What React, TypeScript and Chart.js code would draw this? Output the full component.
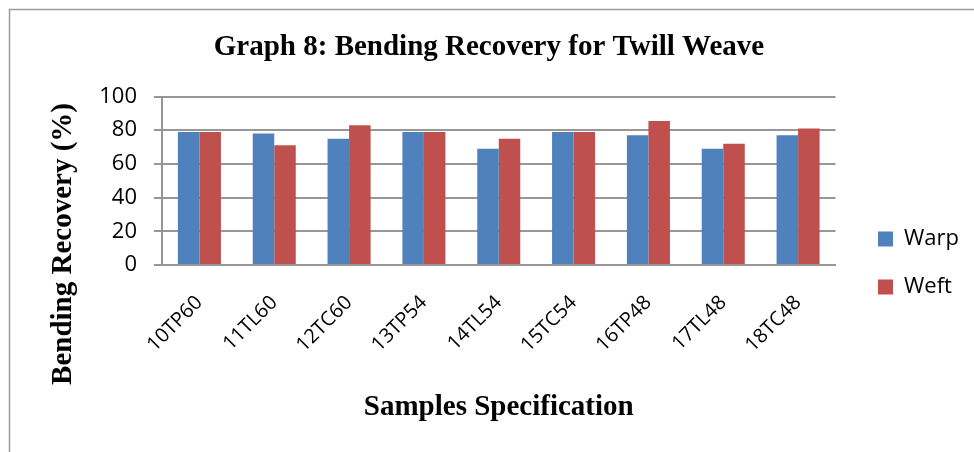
import React, { useEffect, useRef } from "react";
import { Chart, registerables } from "chart.js";

Chart.register(...registerables);

const CHART_TITLE = "Graph 8: Bending Recovery for Twill Weave";
const X_TITLE = "Samples Specification";
const Y_TITLE = "Bending Recovery (%)";

const categories = ["10TP60", "11TL60", "12TC60", "13TP54", "14TL54", "15TC54", "16TP48", "17TL48", "18TC48"];
const warpValues = [79, 78, 75, 79, 69, 79, 77, 69, 77];
const weftValues = [79, 71, 83, 79, 75, 79, 85.5, 72, 81];
const seriesNames = ["Warp", "Weft"];
const yMin = 0;
const yMax = 100;
const yStep = 20;

const SANS = '"Open Sans", "Noto Sans", sans-serif';
const SERIF = '"Liberation Serif", "Times New Roman", serif';
const GRID = "#979797";

const framePlugin = {
  id: "frame",
  beforeDraw(chart: any) {
    const ctx = chart.ctx;
    ctx.save();
    ctx.strokeStyle = "#9c9c9c";
    ctx.lineWidth = 1.5;
    ctx.beginPath();
    ctx.moveTo(9.5, 470);
    ctx.lineTo(9.5, 9.5);
    ctx.lineTo(990, 9.5);
    ctx.stroke();
    ctx.restore();
  },
};

const yTitlePlugin = {
  id: "yTitle",
  afterDraw(chart: any) {
    const ctx = chart.ctx;
    ctx.save();
    ctx.translate(63.5, 244);
    ctx.rotate(-Math.PI / 2);
    ctx.font = "bold 29px " + SERIF;
    ctx.fillStyle = "#000";
    ctx.textAlign = "center";
    ctx.textBaseline = "middle";
    ctx.fillText(Y_TITLE, 0, 0);
    ctx.restore();
  },
};

const layoutShiftPlugin = {
  id: "layoutShift",
  afterLayout(chart: any) {
    const lg = chart.legend;
    if (lg) {
      lg.left = 852;
      lg.right = 974;
    }
    const tb = chart.titleBlock;
    if (tb) {
      tb.left = 4;
      tb.right = 974;
    }
  },
};

export default function App() {
  const ref = useRef<HTMLCanvasElement | null>(null);

  useEffect(() => {
    if (!ref.current) return;
    const chart = new Chart(ref.current, {
      type: "bar",
      data: {
        labels: categories,
        datasets: [
          { label: seriesNames[0], data: warpValues, backgroundColor: "#4F81BD", borderWidth: 0 },
          { label: seriesNames[1], data: weftValues, backgroundColor: "#C0504D", borderWidth: 0 },
        ],
      },
      options: {
        responsive: false,
        animation: false,
        devicePixelRatio: 1,
        layout: { padding: { left: 0, right: 58.5, top: 0, bottom: 0 } },
        datasets: {
          bar: { categoryPercentage: 0.575, barPercentage: 1 },
        },
        plugins: {
          tooltip: { enabled: false },
          title: {
            display: true,
            text: CHART_TITLE,
            color: "#000",
            font: { family: SERIF, size: 29, weight: "bold", lineHeight: 1.2 },
            padding: { top: 30.6, bottom: 31.1 },
          },
          legend: {
            display: true,
            position: "right",
            align: "center",
            maxWidth: 80,
            title: { display: true, text: "", font: { size: 1, lineHeight: 1 }, padding: { top: 0, bottom: 73 } },
            labels: {
              boxWidth: 15,
              boxHeight: 15,
              padding: 26,
              color: "#000",
              font: { family: SANS, size: 22 },
            },
          },
        },
        scales: {
          x: {
            grid: { display: false, drawTicks: false },
            border: { display: true, color: GRID, width: 2 },
            ticks: {
              color: "#000",
              font: { family: SANS, size: 20, lineHeight: 1.2 },
              minRotation: 45,
              maxRotation: 45,
              autoSkip: false,
              padding: 26,
            },
            title: {
              display: true,
              text: X_TITLE,
              color: "#000",
              font: { family: SERIF, size: 29, weight: "bold", lineHeight: 1.2 },
              padding: { top: 0, bottom: 26.6 },
            },
            afterFit(scale: any) {
              scale.height = 187;
            },
          },
          y: {
            min: yMin,
            max: yMax,
            ticks: {
              stepSize: yStep,
              color: "#000",
              font: { family: SANS, size: 22 },
              padding: 17,
            },
            grid: { color: GRID, lineWidth: 2, tickLength: 8, tickColor: GRID, drawTicks: true },
            border: { display: true, color: GRID, width: 2 },
            title: { display: false },
            afterFit(scale: any) {
              scale.width = 162;
            },
          },
        },
      },
      plugins: [framePlugin, yTitlePlugin, layoutShiftPlugin],
    });
    return () => chart.destroy();
  }, []);

  return (
    <div style={{ position: "fixed", left: 0, top: 0, width: 974, height: 452, background: "#fff" }}>
      <canvas ref={ref} width={974} height={452} style={{ display: "block" }} />
    </div>
  );
}
